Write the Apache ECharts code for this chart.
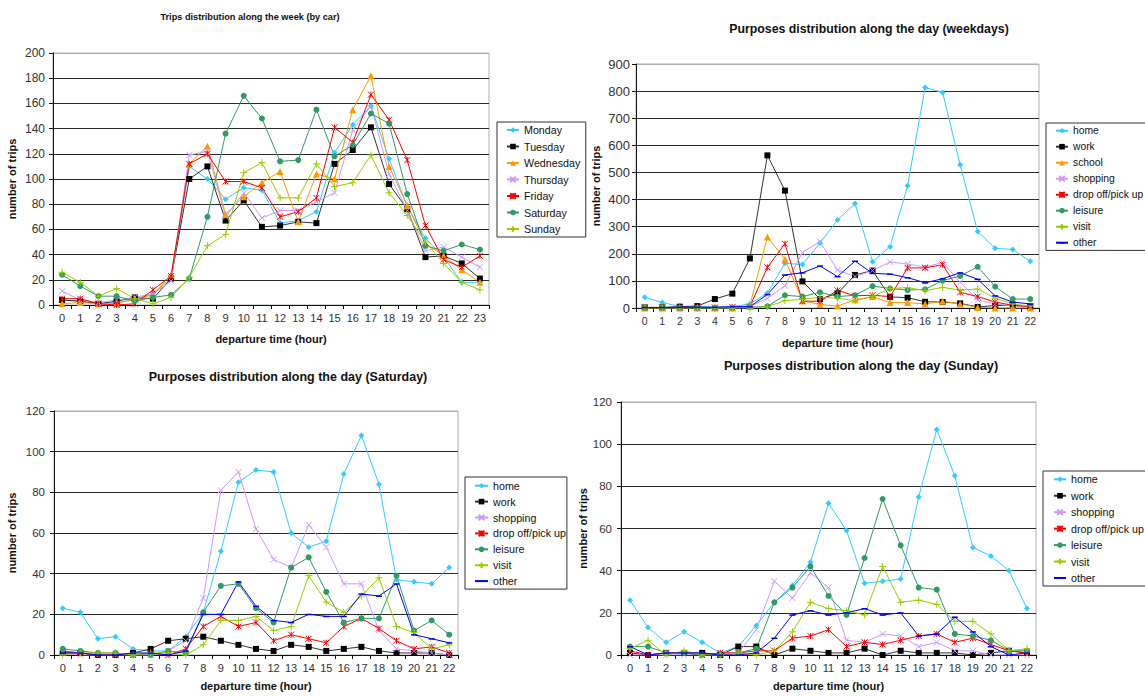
<!DOCTYPE html>
<html>
<head>
<meta charset="utf-8">
<title>Trips and purposes distribution</title>
<script src="https://cdn.jsdelivr.net/npm/echarts@6/dist/echarts.min.js"></script>
<style>
  html, body { margin: 0; padding: 0; background: #ffffff; }
  #chart { width: 1145px; height: 696px; }
</style>
</head>
<body>
<div id="chart"></div>
<script>
// ---- categories ----
const hoursWeek = ['0','1','2','3','4','5','6','7','8','9','10','11','12','13','14','15','16','17','18','19','20','21','22','23'];
const hoursDay = ['0','1','2','3','4','5','6','7','8','9','10','11','12','13','14','15','16','17','18','19','20','21','22'];

// ---- trips by car, per day of week ----
const monday    = [4,3,1,2,4,9,21,110,100,84,93,91,65,67,74,121,143,158,116,78,53,38,18,18];
const tuesday   = [4,3,1,3,6,5,21,100,110,67,83,62,63,66,65,112,123,141,96,76,38,39,33,21];
const wednesday = [1,2,1,1,5,8,24,112,126,72,86,97,106,66,104,100,155,182,110,79,49,39,28,18];
const thursday  = [11,4,2,4,6,9,19,119,122,70,89,69,75,75,82,89,139,158,104,75,43,46,38,30];
const friday    = [5,5,1,0,1,12,23,112,120,98,98,93,70,74,85,141,129,167,147,115,63,36,30,39];
const saturday  = [24,15,7,7,3,6,8,21,70,136,166,148,114,115,155,118,127,152,144,88,47,43,48,44];
const sunday    = [26,18,7,13,5,1,6,22,47,56,105,113,85,85,112,94,97,119,89,71,50,33,18,12];

// ---- purposes, weekdays ----
const wdHome     = [40,20,6,6,3,5,15,55,165,160,240,325,385,171,226,451,813,795,528,282,220,216,172];
const wdWork     = [2,2,5,7,33,53,183,563,433,98,33,54,122,138,41,38,23,22,17,4,9,10,5];
const wdSchool   = [0,0,0,0,0,0,10,262,180,27,13,7,30,42,20,20,15,25,15,2,0,0,0];
const wdShopping = [2,1,2,2,2,3,5,36,82,205,245,140,116,138,170,162,151,168,95,30,15,8,3];
const wdDropOff  = [2,2,2,2,2,3,5,150,237,25,25,65,45,47,42,148,148,160,58,42,22,10,5];
const wdLeisure  = [0,0,0,0,0,0,3,6,47,42,58,42,47,81,72,66,69,101,118,152,79,33,33];
const wdVisit    = [0,0,0,0,0,0,0,5,27,32,40,36,27,42,72,75,64,76,66,70,36,15,7];
const wdOther    = [2,2,3,3,3,5,5,50,122,130,155,116,173,128,125,112,93,108,130,106,45,22,15];

// ---- purposes, Saturday ----
const saHome     = [23,21,8,9,3,2,2,9,21,51,85,91,90,60,53,56,89,108,84,37,36,35,43];
const saWork     = [1,1,0,0,1,3,7,8,9,7,5,3,2,5,4,2,3,4,2,1,1,1,0];
const saShopping = [1,0,0,0,0,0,2,7,28,81,90,62,47,43,64,53,35,35,12,3,2,1,0];
const saDropOff  = [2,1,0,0,0,1,0,3,14,19,14,16,7,10,8,6,14,18,13,7,3,4,1];
const saLeisure  = [3,2,1,1,0,0,2,1,21,34,35,23,16,43,48,31,16,18,18,39,12,17,10];
const saVisit    = [0,1,1,1,0,1,1,0,5,17,17,19,12,14,39,26,21,29,38,14,11,3,5];
const saOther    = [1,1,0,0,1,1,0,2,20,20,36,24,17,16,20,19,19,30,29,35,10,8,6];

// ---- purposes, Sunday ----
const suHome     = [26,13,6,11,6,1,4,14,25,33,44,72,59,34,35,36,75,107,85,51,47,40,22];
const suWork     = [1,0,1,1,1,0,4,4,0,3,2,1,1,3,0,2,1,1,1,0,1,2,1];
const suShopping = [0,0,0,0,0,1,1,12,35,27,39,32,7,6,10,9,4,6,2,2,0,0,0];
const suDropOff  = [2,0,1,1,0,1,1,2,2,8,9,12,4,6,5,7,9,10,6,8,5,2,1];
const suLeisure  = [4,4,1,1,0,0,1,3,25,32,42,28,19,46,74,52,32,31,10,9,7,2,2];
const suVisit    = [3,7,0,2,0,0,1,0,2,11,25,22,21,19,42,25,26,24,16,16,10,2,3];
const suOther    = [4,0,1,1,1,0,0,1,8,19,21,19,20,22,19,20,9,10,18,11,4,0,1];

// ---- labels ----
const weekNames = ['Monday','Tuesday','Wednesday','Thursday','Friday','Saturday','Sunday'];
const purposeNames = ['home','work','school','shopping','drop off/pick up','leisure','visit','other'];

// ---- marker / line styles ----
const P_X = 'path://M0,0L10,10M10,0L0,10';
const P_STAR = 'path://M0,0L10,10M10,0L0,10M5,0L5,10';
const P_PLUS = 'path://M5,0L5,10M0,5L10,5';
// short horizontal bar inside a square 10x10 frame (the two moves fix the bounds)
const P_DASH = 'path://M0,0M10,10M0,4L10,4L10,6.5L0,6.5Z';
const STYLES = {
  cyan:     { line: '#33ccff', fill: '#33ccff', symbol: 'diamond',  size: 6 },
  black:    { line: '#333333', fill: '#000000', symbol: 'rect',     size: 6 },
  orange:   { line: '#ff9900', fill: '#ff9900', symbol: 'triangle', size: 7 },
  lavender: { line: '#cc99ff', fill: '#cc99ff', symbol: P_X,        size: 6, stroke: true },
  red:      { line: '#ff0000', fill: '#ff0000', symbol: P_STAR,     size: 6, stroke: true },
  green:    { line: '#339966', fill: '#339966', symbol: 'circle',   size: 6 },
  lime:     { line: '#99cc00', fill: '#99cc00', symbol: P_PLUS,     size: 7, stroke: true },
  blue:     { line: '#0000ff', fill: '#0000ff', symbol: P_DASH,     size: 6 }
};

const FONT = '"Liberation Sans", Arial, sans-serif';

function line(name, data, idx, key) {
  const s = STYLES[key];
  return {
    type: 'line',
    name: name,
    data: data,
    xAxisIndex: idx,
    yAxisIndex: idx,
    symbol: s.symbol,
    symbolSize: s.size,
    symbolKeepAspect: true,
    showSymbol: true,
    lineStyle: { color: s.line, width: 1 },
    itemStyle: s.stroke
      ? { color: s.fill, borderColor: s.fill, borderWidth: 1 }
      : { color: s.fill, borderWidth: 0 },
    emphasis: { disabled: true },
    animation: false
  };
}

// Grid boxes for the four panels
const grids = [
  { left: 53,  top: 53,  width: 436, height: 252 },
  { left: 636, top: 64,  width: 403, height: 244 },
  { left: 54,  top: 411, width: 404, height: 244 },
  { left: 621, top: 402, width: 415, height: 253 }
].map(g => Object.assign(g, { show: true, borderColor: '#b0b0b0', borderWidth: 1, backgroundColor: '#ffffff' }));

function gridLineColors(n) {
  const arr = [];
  for (let i = 0; i < n; i++) arr.push(i === n - 1 ? '#b0b0b0' : '#2a2a2a');
  return arr;
}

function xAxis(idx, cats, fontSize, nameGap) {
  return {
    type: 'category',
    gridIndex: idx,
    data: cats,
    boundaryGap: true,
    name: 'departure time (hour)',
    nameLocation: 'middle',
    nameGap: nameGap,
    nameTextStyle: { fontFamily: FONT, fontWeight: 'bold', fontSize: 11, color: '#111' },
    axisLine: { show: true, lineStyle: { color: '#111', width: 1 } },
    axisTick: { show: true, alignWithLabel: false, length: 4, lineStyle: { color: '#111' } },
    axisLabel: { interval: 0, fontFamily: FONT, fontSize: fontSize, color: '#333', margin: 7 },
    splitLine: { show: false }
  };
}

function yAxis(idx, max, step, fontSize, nameGap, margin) {
  return {
    type: 'value',
    gridIndex: idx,
    min: 0,
    max: max,
    interval: step,
    name: 'number of trips',
    nameLocation: 'middle',
    nameGap: nameGap,
    nameTextStyle: { fontFamily: FONT, fontWeight: 'bold', fontSize: 11, color: '#111' },
    axisLine: { show: true, lineStyle: { color: '#111', width: 1 } },
    axisTick: { show: true, length: 4, lineStyle: { color: '#111' } },
    axisLabel: { fontFamily: FONT, fontSize: fontSize, color: '#333', margin: margin },
    splitLine: { show: true, lineStyle: { color: gridLineColors(max / step + 1), width: 1 } }
  };
}

function title(text, x, y, size) {
  return {
    text: text,
    left: x,
    top: y,
    padding: 0,
    textAlign: 'center',
    textVerticalAlign: 'middle',
    textStyle: { fontFamily: FONT, fontWeight: 'bold', fontSize: size, color: '#111' }
  };
}

function legend(names, left, top, gap, padding, itemWidth, fontSize) {
  return {
    data: names,
    orient: 'vertical',
    left: left,
    top: top,
    itemWidth: itemWidth,
    itemHeight: 7,
    itemGap: gap,
    padding: padding,
    selectedMode: false,
    symbolKeepAspect: true,
    borderColor: '#333',
    borderWidth: 1,
    backgroundColor: '#ffffff',
    textStyle: { fontFamily: FONT, fontSize: fontSize, lineHeight: 11, color: '#111' }
  };
}

const series = [
  line('Monday', monday, 0, 'cyan'),
  line('Tuesday', tuesday, 0, 'black'),
  line('Wednesday', wednesday, 0, 'orange'),
  line('Thursday', thursday, 0, 'lavender'),
  line('Friday', friday, 0, 'red'),
  line('Saturday', saturday, 0, 'green'),
  line('Sunday', sunday, 0, 'lime'),

  line('home', wdHome, 1, 'cyan'),
  line('work', wdWork, 1, 'black'),
  line('school', wdSchool, 1, 'orange'),
  line('shopping', wdShopping, 1, 'lavender'),
  line('drop off/pick up', wdDropOff, 1, 'red'),
  line('leisure', wdLeisure, 1, 'green'),
  line('visit', wdVisit, 1, 'lime'),
  line('other', wdOther, 1, 'blue'),

  line('home', saHome, 2, 'cyan'),
  line('work', saWork, 2, 'black'),
  line('shopping', saShopping, 2, 'lavender'),
  line('drop off/pick up', saDropOff, 2, 'red'),
  line('leisure', saLeisure, 2, 'green'),
  line('visit', saVisit, 2, 'lime'),
  line('other', saOther, 2, 'blue'),

  line('home', suHome, 3, 'cyan'),
  line('work', suWork, 3, 'black'),
  line('shopping', suShopping, 3, 'lavender'),
  line('drop off/pick up', suDropOff, 3, 'red'),
  line('leisure', suLeisure, 3, 'green'),
  line('visit', suVisit, 3, 'lime'),
  line('other', suOther, 3, 'blue')
];

const purposesNoSchool = purposeNames.filter(n => n !== 'school');

const option = {
  backgroundColor: '#ffffff',
  animation: false,
  title: [
    title('Trips distribution along the week (by car)', 250, 17, 9.2),
    title('Purposes distribution along the day (weekdays)', 869, 29, 12.3),
    title('Purposes distribution along the day (Saturday)', 288, 377, 12.5),
    title('Purposes distribution along the day (Sunday)', 861, 366, 12.7)
  ],
  legend: [
    legend(weekNames, 497, 122, 5.5, [2.5, 5.5, 2.5, 9], 12, 10.7),
    legend(purposeNames, 1046, 123, 5, [2.2, 20, 2.2, 9], 12, 10.3),
    legend(purposesNoSchool, 465, 477, 4.9, [3.2, 1, 2.5, 9], 13, 10.7),
    legend(purposesNoSchool, 1043, 471, 5.45, [2.8, 4, 2.5, 10], 12, 10.7)
  ],
  grid: grids,
  xAxis: [
    xAxis(0, hoursWeek, 11, 28),
    xAxis(1, hoursDay, 10.5, 29),
    xAxis(2, hoursDay, 11, 25),
    xAxis(3, hoursDay, 11, 25)
  ],
  yAxis: [
    yAxis(0, 200, 20, 12, 36, 8),
    yAxis(1, 900, 100, 13, 35, 6),
    yAxis(2, 120, 20, 11.5, 37, 9),
    yAxis(3, 120, 20, 11.5, 33, 9)
  ],
  series: series
};

const chart = echarts.init(document.getElementById('chart'), null, { renderer: 'svg' });
chart.setOption(option);
</script>
</body>
</html>
